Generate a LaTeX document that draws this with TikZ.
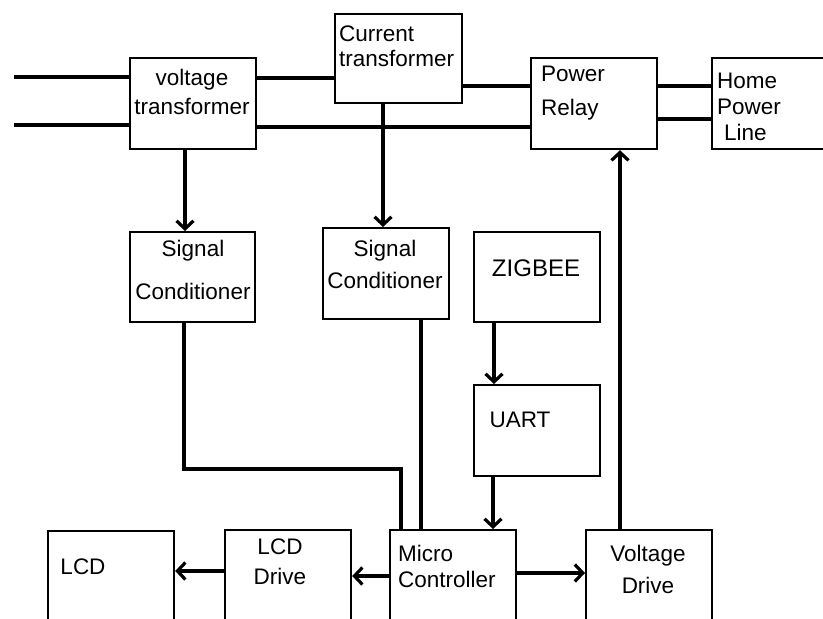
\documentclass[tikz,border=0pt]{standalone}
\usepackage{fontspec}
\setmainfont{Liberation Sans}
\usepackage{tikz}
\usetikzlibrary{positioning, arrows.meta, calc}

\begin{document}
\begin{tikzpicture}[x=1pt, y=-1pt,
  blk/.style={draw, line width=2.2pt, minimum width=126pt, minimum height=91pt,
              anchor=north west, inner sep=0pt},
  lbl/.style={inner sep=0pt, font=\fontsize{22.5}{26}\selectfont},
  wire/.style={line width=3.2pt},
  arr/.style={wire, -{Straight Barb[length=8pt, width=17pt]}}]

  \fill[white] (0,0) rectangle (823,619);
  \useasboundingbox (0,0) rectangle (823,619);
  \clip (0,0) rectangle (823,619);

  % blocks
  \node[blk] (vt) at (129,57) {};
  \node[blk, minimum width=127pt, minimum height=89pt] (ct) at (334,13) {};
  \node[blk] (pr) at (530,57) {};
  \node[blk, minimum width=140pt] (hpl) at (711,57) {};
  \node[blk, minimum width=125pt, minimum height=90pt] (sc1) at (129,231) {};
  \node[blk] (sc2) at (322,227) {};
  \node[blk, minimum height=90pt] (zb) at (473,231) {};
  \node[blk] (uart) at (473,384) {};
  \node[blk, minimum height=110pt] (lcd) at (47,530) {};
  \node[blk, minimum height=110pt] (lcdd) at (224,529) {};
  \node[blk, minimum height=110pt] (mc) at (389,529) {};
  \node[blk, minimum height=110pt] (vd) at (585,529) {};

  % texts
  \node[lbl, align=center] (vtt) at (192,92) {voltage\\[3pt]transformer};
  \node[lbl, align=left, anchor=west] (ctt) at (339,46) {Current\\[-1pt]transformer};
  \node[lbl, align=left, anchor=west] (prt) at (541,93) {Power\\[8pt]Relay};
  \node[lbl, align=left, anchor=west] (hplt) at (717,107) {Home\\Power\\\hspace*{7pt}Line};
  \node[lbl, align=center] (sc1t) at (193,270) {Signal\\[17pt]Conditioner};
  \node[lbl, align=center] (sc2t) at (385,264) {Signal\\[6pt]Conditioner};
  \node[lbl, font=\fontsize{24}{28}\selectfont] (zbt) at (536,268) {ZIGBEE};
  \node[lbl] (uartt) at (520,420) {UART};
  \node[lbl] (lcdt) at (83,567) {LCD};
  \node[lbl, align=center] (lcddt) at (280,562) {LCD\\[4pt]Drive};
  \node[lbl, align=left, anchor=west] (mct) at (398,566) {Micro\\Controller};
  \node[lbl, align=center] (vdt) at (648,569) {Voltage\\[6pt]Drive};

  % mains lines
  \coordinate (in1) at (14,77);
  \coordinate (in2) at (14,125);
  \draw[wire] (in1) -- (in1 -| vt.west);
  \draw[wire] (in2) -- (in2 -| vt.west);
  \draw[wire] (vt.east |- 0,78) -- (ct.west |- 0,78);
  \draw[wire] (vt.east |- 0,127) -- (pr.west |- 0,127);
  \draw[wire] (ct.east |- 0,86) -- (pr.west |- 0,86);
  \draw[wire] (pr.east |- 0,86) -- (hpl.west |- 0,86);
  \draw[wire] (pr.east |- 0,119) -- (hpl.west |- 0,119);

  % signal paths
  \draw[arr] (vt.south -| 185,0) -- (sc1.north -| 185,0);
  \draw[arr] (ct.south -| 383,0) -- (sc2.north -| 383,0);
  \draw[wire] (sc1.south -| 184,0) |- (401,469) -- (mc.north -| 401,0);
  \draw[wire] (sc2.south -| 421,0) -- (mc.north -| 421,0);
  \draw[arr] (zb.south -| 494,0) -- (uart.north -| 494,0);
  \draw[arr] (uart.south -| 493,0) -- (mc.north -| 493,0);
  \draw[arr] (vd.north -| 620,0) -- (pr.south -| 620,0);
  \draw[arr] (mc.east |- 0,573) -- (vd.west |- 0,573);
  \draw[arr] (mc.west |- 0,576) -- (lcdd.east |- 0,576);
  \draw[arr] (lcdd.west |- 0,571) -- (lcd.east |- 0,571);
\end{tikzpicture}
\end{document}
